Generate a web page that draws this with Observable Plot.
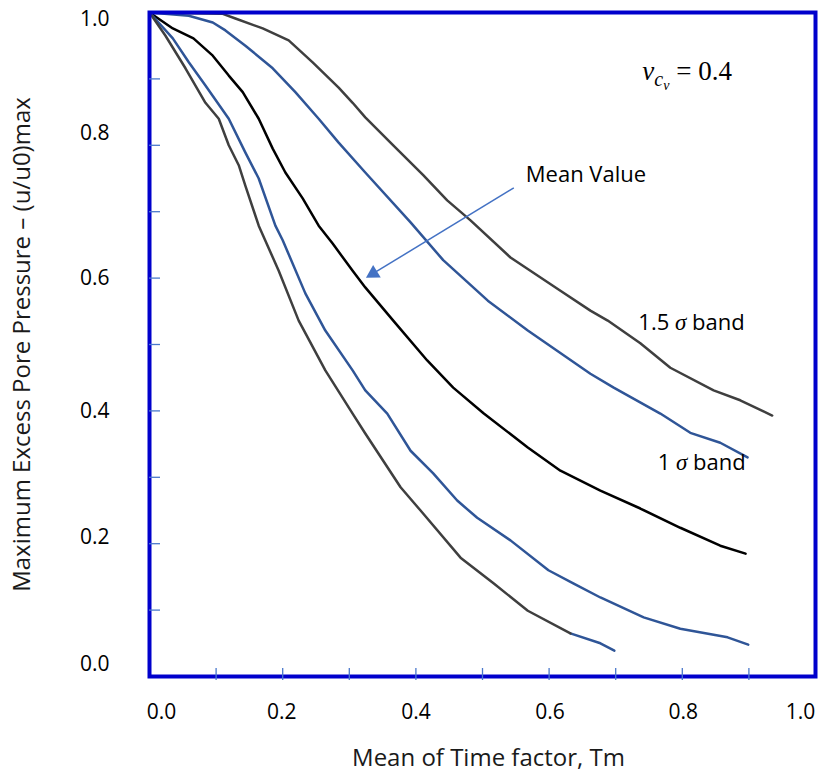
<!DOCTYPE html>
<html>
<head>
<meta charset="utf-8">
<script src="https://cdn.jsdelivr.net/npm/d3@7"></script>
<script src="https://cdn.jsdelivr.net/npm/@observablehq/plot@0.6"></script>
<style>
  body { margin: 0; background: #fff; }
  #chart svg { display: block; }
</style>
</head>
<body>
<div id="chart"></div>
<script>
// ---- Data ----
// 1.5 sigma band, upper curve
const tUpper15 = [0, 0.110, 0.129, 0.170, 0.209, 0.245, 0.284, 0.305, 0.324, 0.366, 0.411, 0.447, 0.482, 0.542, 0.617, 0.662, 0.688, 0.737, 0.782, 0.847, 0.887, 0.935];
const uUpper15 = [1.0, 0.998, 0.991, 0.976, 0.958, 0.925, 0.887, 0.864, 0.842, 0.800, 0.755, 0.717, 0.687, 0.631, 0.581, 0.551, 0.536, 0.502, 0.465, 0.431, 0.416, 0.393];
// 1 sigma band, upper curve
const tUpper1 = [0, 0.059, 0.095, 0.114, 0.144, 0.185, 0.219, 0.254, 0.284, 0.324, 0.392, 0.441, 0.508, 0.568, 0.662, 0.697, 0.767, 0.812, 0.857, 0.898];
const uUpper1 = [1.0, 0.995, 0.985, 0.973, 0.950, 0.916, 0.880, 0.840, 0.804, 0.759, 0.684, 0.627, 0.566, 0.521, 0.456, 0.435, 0.396, 0.367, 0.352, 0.330];
// Mean value
const tMean = [0, 0.035, 0.066, 0.095, 0.119, 0.140, 0.164, 0.185, 0.204, 0.230, 0.254, 0.275, 0.305, 0.324, 0.366, 0.417, 0.456, 0.502, 0.568, 0.617, 0.677, 0.737, 0.797, 0.857, 0.895];
const uMean = [1.0, 0.976, 0.961, 0.935, 0.905, 0.880, 0.840, 0.795, 0.759, 0.720, 0.679, 0.652, 0.611, 0.586, 0.536, 0.476, 0.435, 0.396, 0.345, 0.310, 0.280, 0.253, 0.224, 0.197, 0.185];
// 1 sigma band, lower curve
const tLower1 = [0, 0.035, 0.059, 0.084, 0.119, 0.144, 0.164, 0.189, 0.200, 0.234, 0.264, 0.305, 0.324, 0.357, 0.392, 0.426, 0.462, 0.492, 0.542, 0.599, 0.637, 0.677, 0.742, 0.797, 0.868, 0.899];
const uLower1 = [1.0, 0.961, 0.925, 0.890, 0.840, 0.789, 0.750, 0.679, 0.657, 0.577, 0.521, 0.461, 0.431, 0.396, 0.340, 0.306, 0.265, 0.239, 0.205, 0.160, 0.140, 0.119, 0.089, 0.072, 0.059, 0.048];
// 1.5 sigma band, lower curve (gray part) and its blue tail
const tLower15 = [0, 0.024, 0.054, 0.084, 0.104, 0.119, 0.134, 0.144, 0.164, 0.194, 0.224, 0.264, 0.305, 0.324, 0.377, 0.407, 0.467, 0.517, 0.568, 0.632];
const uLower15 = [1.0, 0.965, 0.916, 0.864, 0.840, 0.800, 0.770, 0.739, 0.679, 0.611, 0.536, 0.461, 0.396, 0.366, 0.285, 0.250, 0.179, 0.140, 0.099, 0.065];
const tLowerTail = [0.632, 0.677, 0.698];
const uLowerTail = [0.065, 0.050, 0.039];

// tick values
const xMinorTicks = [0.1, 0.2, 0.3, 0.4, 0.5, 0.6, 0.7, 0.8, 0.9];
const yMinorTicks = [0.1, 0.2, 0.3, 0.4, 0.5, 0.6, 0.7, 0.8, 0.9];
const xTickLabels = [0.0, 0.2, 0.4, 0.6, 0.8, 1.0];
const yTickLabels = [0.0, 0.2, 0.4, 0.6, 0.8, 1.0];

const xTitle = "Mean of Time factor, Tm";
const yTitle = "Maximum Excess Pore Pressure – (u/u0)max";

// ---- Styles ----
const GRAY = "#3f3f3f", BLUE = "#2f5597", BLACK = "#000000", FRAME = "#0000cc", TICK = "#4a78cc";
const SANS = "'Open Sans', 'Noto Sans', sans-serif";
const SERIF = "'Liberation Serif', 'DejaVu Serif', serif";

const toRows = (ts, us) => ts.map((t, i) => ({t, u: us[i]}));
const lineOpts = c => ({x: "t", y: "u", stroke: c, strokeWidth: 2.5, strokeLinejoin: "round", strokeLinecap: "round"});

// tick label offsets (as placed in the reference)
const yLabelShift = new Map([[0.0, -12], [0.2, -6], [0.4, 0], [0.6, 0], [0.8, -12], [1.0, 7]]);
const xLabelShift = new Map([[0.0, 12], [0.2, -1], [0.4, 0], [0.6, 1], [0.8, 1], [1.0, -15]]);

const marks = [
  Plot.line(toRows(tUpper15, uUpper15), lineOpts(GRAY)),
  Plot.line(toRows(tUpper1, uUpper1), lineOpts(BLUE)),
  Plot.line(toRows(tMean, uMean), lineOpts(BLACK)),
  Plot.line(toRows(tLower1, uLower1), lineOpts(BLUE)),
  Plot.line(toRows(tLowerTail, uLowerTail), lineOpts(BLUE)),
  Plot.line(toRows(tLower15, uLower15), lineOpts(GRAY)),
  Plot.frame({stroke: FRAME, strokeWidth: 4}),
  Plot.axisX({ticks: xMinorTicks, tickSize: 12, dy: -8, stroke: TICK, strokeWidth: 1.3, fill: "none", label: null}),
  Plot.axisY({ticks: yMinorTicks, tickSize: 11, dx: 11, stroke: TICK, strokeWidth: 1.3, fill: "none", label: null}),
  ...xTickLabels.map(v => Plot.axisX({ticks: [v], tickSize: 0, tickPadding: 28, dx: xLabelShift.get(v), tickFormat: ".1f", fontSize: 21, fontFamily: SANS, fill: "#000", label: null})),
  ...yTickLabels.map(v => Plot.axisY({ticks: [v], tickSize: 0, tickPadding: 40, dy: yLabelShift.get(v), tickFormat: ".1f", fontSize: 21, fontFamily: SANS, fill: "#000", label: null})),
  Plot.text([xTitle], {text: d => d, frameAnchor: "bottom", textAnchor: "middle", dy: 89, dx: 6, fontSize: 24, fontFamily: SANS, fill: "#1a1a1a"}),
  Plot.text([yTitle], {text: d => d, frameAnchor: "left", textAnchor: "middle", dx: -127, rotate: -90, fontSize: 24, fontFamily: SANS, fill: "#1a1a1a"}),
  // annotations
  Plot.link([0], {x1: () => 0.547, y1: () => 0.736, x2: () => 0.336, y2: () => 0.607, stroke: "#4472c4", strokeWidth: 1.5}),
  Plot.dot([0], {x: () => 0.336, y: () => 0.607, symbol: "triangle", r: 5.5, rotate: -121, fill: "#4472c4", stroke: "none"}),
  Plot.text(["Mean Value"], {text: d => d, x: () => 0.565, y: () => 0.755, textAnchor: "start", fontSize: 22, fontFamily: SANS, fill: "#000"}),
  Plot.text(["1.5 σ band"], {text: d => d, x: () => 0.734, y: () => 0.533, textAnchor: "start", fontSize: 22, fontFamily: SANS, fill: "#000", className: "band-label"}),
  Plot.text(["1 σ band"], {text: d => d, x: () => 0.763, y: () => 0.321, textAnchor: "start", fontSize: 22, fontFamily: SANS, fill: "#000", className: "band-label"}),
  Plot.text(["ν = 0.4"], {text: d => d, x: () => 0.740, y: () => 0.911, textAnchor: "start", fontSize: 27, fontFamily: SERIF, fill: "#000", className: "nu-label"})
];

const chart = Plot.plot({
  width: 818,
  height: 780,
  marginLeft: 149,
  marginRight: 3,
  marginTop: 12,
  marginBottom: 104,
  x: {domain: [0, 1]},
  y: {domain: [0, 1]},
  style: {background: "#fff", overflow: "visible"},
  marks
});

// italic sigma in band labels
d3.select(chart).selectAll("g.band-label text").each(function() {
  const s = this.textContent;
  const [a, b] = s.split("σ");
  const t = d3.select(this).text(null);
  t.append("tspan").text(a);
  t.append("tspan").attr("font-style", "italic").attr("font-family", SERIF).attr("font-size", 23).text("σ");
  t.append("tspan").text(b);
});
// nu_{c_v} = 0.4
d3.select(chart).selectAll("g.nu-label text").each(function() {
  const t = d3.select(this).text(null);
  t.append("tspan").attr("font-style", "italic").text("ν");
  t.append("tspan").attr("font-style", "italic").attr("font-size", 20).attr("dy", 6).text("c");
  t.append("tspan").attr("font-style", "italic").attr("font-size", 14).attr("dy", 4).text("v");
  t.append("tspan").attr("dy", -10).text(" = 0.4");
});

document.getElementById("chart").appendChild(chart);
</script>
</body>
</html>
